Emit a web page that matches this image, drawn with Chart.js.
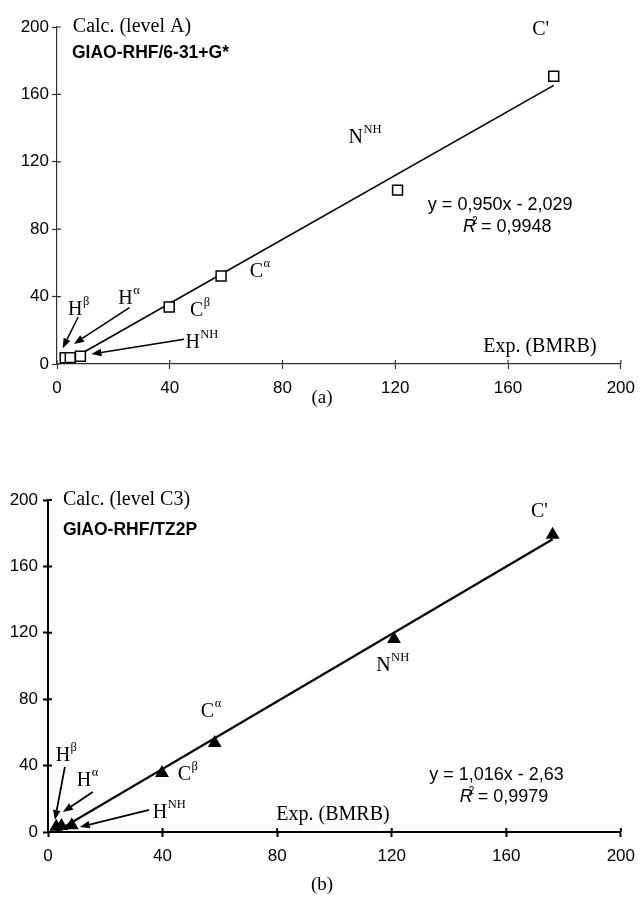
<!DOCTYPE html>
<html>
<head>
<meta charset="utf-8">
<script src="https://cdn.jsdelivr.net/npm/chart.js@4.4.1/dist/chart.umd.min.js"></script>
<style>
  html, body { margin: 0; padding: 0; background: #fff; }
  body { width: 644px; height: 911px; position: relative; overflow: hidden; }
  .plot { position: absolute; left: 0; }
  .caption {
    position: absolute; left: 0; width: 644px; text-align: center;
    font-family: "Liberation Serif", serif; font-size: 19px; color: #000;
  }
</style>
</head>
<body>
<div class="plot" style="top:0"><canvas id="chartA" width="644" height="420"></canvas></div>
<div class="caption" style="top:386px">(a)</div>
<div class="plot" style="top:440px"><canvas id="chartB" width="644" height="440"></canvas></div>
<div class="caption" style="top:873px">(b)</div>

<script>
// experimental shifts (BMRB) for Hβ, Hα, HNH, Cβ, Cα, NNH, C'
const expShift = [2.9, 4.7, 8.3, 39.8, 58.2, 120.8, 176.2];
// calculated shifts, level A and level C3
const calcA = [3.7, 3.8, 4.6, 33.8, 52.2, 103.2, 170.8];
const calcB = [3.2, 3.6, 4.0, 35.5, 53.6, 116.2, 179.0];
// linear fits
const fitSlope = [0.950, 1.016];
const fitIntercept = [-2.029, -2.63];
const fitR2 = ['0,9948', '0,9979'];
const axisTicks = [0, 40, 80, 120, 160, 200];

const SERIF = '"Liberation Serif", "Times New Roman", serif';
const SANS = '"Liberation Sans", Arial, sans-serif';

const comma = n => String(n).replace('.', ',');
const eqText = i => 'y = ' + fitSlope[i].toFixed(3).replace('.', ',') + 'x ' +
  (fitIntercept[i] < 0 ? '- ' : '+ ') + comma(Math.abs(fitIntercept[i]));

function fitLine(i) {
  const lo = Math.min(...expShift), hi = Math.max(...expShift);
  return [lo, hi].map(x => ({ x: x, y: fitSlope[i] * x + fitIntercept[i] }));
}

// labels, arrows and titles placed in data units
const notesA = {
  fit: 0,
  title: 'Calc. (level A)', method: 'GIAO-RHF/6-31+G*',
  titlePos: [5.6, 200], methodPos: [5.3, 184.6],
  expPos: [171.3, 10.1],
  eqPos: [157.2, 94.4], r2Pos: [159.7, 81.3],
  labels: [
    { t: 'H', s: 'β', x: 6.5, y: 32.9 },
    { t: 'H', s: 'α', x: 24.3, y: 39.2 },
    { t: 'H', s: 'NH', x: 48.1, y: 13.4 },
    { t: 'C', s: 'β', x: 49.5, y: 32 },
    { t: 'C', s: 'α', x: 70.7, y: 55.2 },
    { t: 'N', s: 'NH', x: 106, y: 134.7 },
    { t: "C'", s: '', x: 171.6, y: 199.1 }
  ],
  arrows: [
    [7.5, 27.9, 2.0, 9.3],
    [25.7, 33.4, 6.0, 11.9],
    [45.1, 14.7, 12.2, 5.9]
  ]
};

const notesB = {
  fit: 1,
  title: 'Calc. (level C3)', method: 'GIAO-RHF/TZ2P',
  titlePos: [5.2, 200], methodPos: [5.2, 181.9],
  expPos: [99.5, 10.2],
  eqPos: [156.6, 34.3], r2Pos: [159.2, 21.1],
  labels: [
    { t: 'H', s: 'β', x: 5.2, y: 46.4 },
    { t: 'H', s: 'α', x: 12.6, y: 31.6 },
    { t: 'H', s: 'NH', x: 39.1, y: 12.3 },
    { t: 'C', s: 'β', x: 47.6, y: 35.2 },
    { t: 'C', s: 'α', x: 55.7, y: 72.9 },
    { t: 'N', s: 'NH', x: 117.1, y: 100.9 },
    { t: "C'", s: '', x: 171.6, y: 193.4 }
  ],
  arrows: [
    [5.9, 39.2, 2.4, 7.2],
    [15.6, 24.1, 5.2, 12.0],
    [35.3, 13.3, 11.1, 3.0]
  ]
};

// ticks that cross the axis line: Chart.js draws the outer half, this adds the inner one
const innerTicks = {
  id: 'innerTicks',
  afterDraw(chart, args, opts) {
    const { ctx, chartArea: a, scales: { x, y } } = chart;
    ctx.save();
    ctx.strokeStyle = opts.color;
    ctx.lineWidth = opts.width;
    ctx.beginPath();
    x.ticks.forEach(t => {
      const p = x.getPixelForValue(t.value);
      ctx.moveTo(p, a.bottom); ctx.lineTo(p, a.bottom - opts.len);
    });
    y.ticks.forEach(t => {
      const p = y.getPixelForValue(t.value);
      ctx.moveTo(a.left, p); ctx.lineTo(a.left + opts.len, p);
    });
    ctx.stroke();
    ctx.restore();
  }
};

const notes = {
  id: 'notes',
  afterDatasetsDraw(chart, args, n) {
    const { ctx, scales: { x, y } } = chart;
    const px = v => x.getPixelForValue(v), py = v => y.getPixelForValue(v);
    ctx.save();
    ctx.fillStyle = '#000';
    ctx.strokeStyle = '#000';

    n.arrows.forEach(a => {
      const x0 = px(a[0]), y0 = py(a[1]), x1 = px(a[2]), y1 = py(a[3]);
      const ang = Math.atan2(y1 - y0, x1 - x0);
      const head = 10, half = 3.8;
      const bx = x1 - head * Math.cos(ang), by = y1 - head * Math.sin(ang);
      ctx.lineWidth = n.arrowWidth;
      ctx.beginPath(); ctx.moveTo(x0, y0); ctx.lineTo(bx, by); ctx.stroke();
      ctx.beginPath();
      ctx.moveTo(x1, y1);
      ctx.lineTo(bx + half * Math.sin(ang), by - half * Math.cos(ang));
      ctx.lineTo(bx - half * Math.sin(ang), by + half * Math.cos(ang));
      ctx.closePath();
      ctx.fill();
    });

    ctx.textBaseline = 'middle';
    ctx.textAlign = 'left';
    n.labels.forEach(l => {
      ctx.font = '20px ' + SERIF;
      const w = ctx.measureText(l.t).width;
      const cx = px(l.x), cy = py(l.y);
      ctx.fillText(l.t, cx - w / 2, cy + 1);
      if (l.s) {
        ctx.font = '12.5px ' + SERIF;
        ctx.fillText(l.s, cx + w / 2 + 0.5, cy - 7);
      }
    });

    // axis titles
    ctx.font = '20px ' + SERIF;
    ctx.fillText(n.title, px(n.titlePos[0]), py(n.titlePos[1]));
    ctx.font = 'bold 17.5px ' + SANS;
    ctx.fillText(n.method, px(n.methodPos[0]), py(n.methodPos[1]));
    ctx.font = '20px ' + SERIF;
    ctx.textAlign = 'center';
    ctx.fillText('Exp. (BMRB)', px(n.expPos[0]), py(n.expPos[1]));

    // regression equation and R²
    ctx.font = '18px ' + SANS;
    ctx.fillText(eqText(n.fit), px(n.eqPos[0]), py(n.eqPos[1]));
    ctx.textAlign = 'left';
    const rest = ' = ' + fitR2[n.fit];
    ctx.font = 'italic 18px ' + SANS;
    const wR = ctx.measureText('R').width;
    ctx.font = '18px ' + SANS;
    const wRest = ctx.measureText(rest).width;
    let sx = px(n.r2Pos[0]) - (wR + wRest) / 2;
    const sy = py(n.r2Pos[1]);
    ctx.font = 'italic 18px ' + SANS;
    ctx.fillText('R', sx, sy);
    ctx.font = '10px ' + SANS;
    ctx.fillText('2', sx + wR - 4, sy - 6);
    ctx.font = '18px ' + SANS;
    ctx.fillText(rest, sx + wR, sy);
    ctx.restore();
  }
};

function makeChart(id, calc, n, style) {
  const pts = expShift.map((v, i) => ({ x: v, y: calc[i] }));
  n.arrowWidth = style.arrowWidth;
  const axis = (extra) => Object.assign({
    type: 'linear', min: 0, max: 200,
    afterBuildTicks: s => { s.ticks = axisTicks.map(v => ({ value: v })); },
    border: { display: true, color: style.axisColor, width: style.axisWidth },
    grid: {
      display: true, drawOnChartArea: false, drawTicks: true,
      tickLength: 5, tickColor: style.axisColor, tickWidth: style.axisWidth
    }
  }, extra);

  return new Chart(document.getElementById(id), {
    type: 'scatter',
    data: {
      datasets: [
        {
          data: pts,
          pointStyle: style.marker,
          pointRadius: style.radius,
          pointBorderWidth: 1.5,
          pointBorderColor: '#000',
          pointBackgroundColor: style.fill,
          showLine: false
        },
        {
          type: 'line',
          data: fitLine(n.fit),
          borderColor: '#000',
          borderWidth: style.lineWidth,
          pointRadius: 0,
          fill: false
        }
      ]
    },
    options: {
      responsive: false,
      animation: false,
      events: [],
      layout: { padding: style.padding },
      plugins: {
        legend: { display: false },
        tooltip: { enabled: false },
        notes: n,
        innerTicks: { color: style.axisColor, width: style.axisWidth, len: 4 }
      },
      scales: {
        x: axis({
          position: 'bottom',
          afterFit: s => { s.height = style.xHeight; },
          ticks: { color: '#000', padding: 9, font: { family: SANS, size: 17 } }
        }),
        y: axis({
          position: 'left',
          afterFit: s => { s.width = style.yWidth; },
          ticks: { color: '#000', padding: style.yPad, font: { family: SANS, size: 17 } }
        })
      }
    },
    plugins: [notes, innerTicks]
  });
}

makeChart('chartA', calcA, notesA, {
  marker: 'rect', radius: 7, fill: '#fff', lineWidth: 1.6, arrowWidth: 1.5,
  axisColor: '#333', axisWidth: 1.2,
  padding: { top: 27, right: 18, left: 0, bottom: 0 },
  xHeight: 56, yWidth: 57, yPad: 3
});

makeChart('chartB', calcB, notesB, {
  marker: 'triangle', radius: 6.5, fill: '#000', lineWidth: 2.2, arrowWidth: 1.8,
  axisColor: '#000', axisWidth: 2,
  padding: { top: 60, right: 18, left: 0, bottom: 0 },
  xHeight: 48, yWidth: 48, yPad: 5
});
</script>
</body>
</html>
